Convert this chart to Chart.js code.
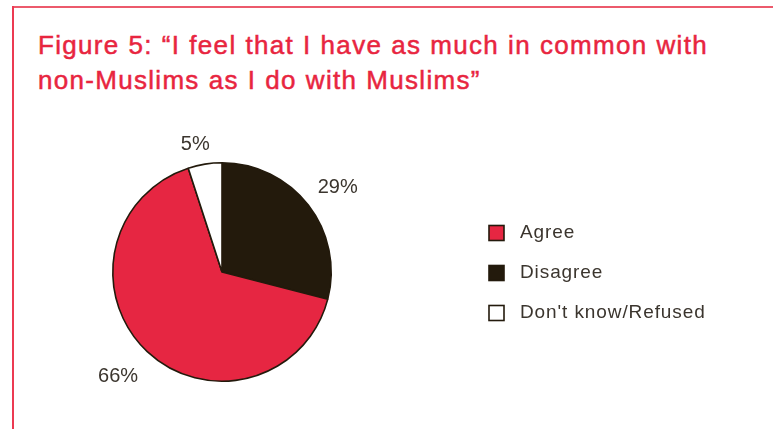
<!DOCTYPE html>
<html>
<head>
<meta charset="utf-8">
<script src="https://cdn.jsdelivr.net/npm/chart.js@4"></script>
<style>
    html, body { margin: 0; padding: 0; background: #fff; }
    #wrap { position: relative; width: 773px; height: 429px; overflow: hidden; }
    #frameTop { position: absolute; left: 12px; top: 6px; right: 0; height: 2px; background: #ec5a6c; }
    #frameLeft { position: absolute; left: 12px; top: 6px; bottom: 0; width: 2px; background: #ec3a52; }
    #title {
        position: absolute; left: 38px; top: 28px; margin: 0;
        font-family: 'Liberation Sans', Arial, sans-serif; font-size: 26px; font-weight: normal;
        line-height: 35px; color: #e8253f; letter-spacing: 1.3px; word-spacing: 0.5px;
        -webkit-text-stroke: 0.5px #e8253f;
    }
    canvas { position: absolute; left: 0; top: 0; }
</style>
</head>
<body>
<div id="wrap">
    <div id="frameTop"></div>
    <div id="frameLeft"></div>
    <h1 id="title">Figure 5: “I feel that I have as much in common with<br>non-Muslims as I do with Muslims”</h1>
    <canvas id="chart" width="773" height="429"></canvas>
</div>
<script>
// ========================================
// DATA
// ========================================

// slice order runs clockwise from 12 o'clock
const categories = ['Disagree', 'Agree', "Don't know/Refused"];
const shares = [29, 66, 5];
const sliceColors = ['#231a0c', '#e62642', '#ffffff'];

// legend order
const legendOrder = ['Agree', 'Disagree', "Don't know/Refused"];

const TEXT_COLOR = '#3b352e';
const FONT = "'Liberation Sans', Arial, sans-serif";

// ========================================
// PLUGINS
// ========================================

// percentage labels sitting just outside each slice
const outsideLabels = {
    id: 'outsideLabels',
    afterDatasetsDraw(chart) {
        const ctx = chart.ctx;
        const meta = chart.getDatasetMeta(0);
        const offsets = [34, 38, 21];
        const nudge = [0.03, 0.03, -0.05]; // small angular shift, radians
        ctx.save();
        ctx.font = '20px ' + FONT;
        ctx.fillStyle = TEXT_COLOR;
        ctx.textAlign = 'center';
        ctx.textBaseline = 'middle';
        meta.data.forEach((arc, i) => {
            const mid = (arc.startAngle + arc.endAngle) / 2 + nudge[i];
            const r = arc.outerRadius + offsets[i];
            const x = arc.x + Math.cos(mid) * r;
            const y = arc.y + Math.sin(mid) * r;
            ctx.fillText(shares[i] + '%', x, y);
        });
        ctx.restore();
    }
};

// square legend to the right of the pie
const boxLegend = {
    id: 'boxLegend',
    afterDraw(chart) {
        const ctx = chart.ctx;
        const x = 489, y0 = 233, gap = 40, size = 15;
        ctx.save();
        ctx.font = '19px ' + FONT;
        ctx.letterSpacing = '0.9px';
        ctx.textBaseline = 'middle';
        legendOrder.forEach((name, i) => {
            const idx = categories.indexOf(name);
            const y = y0 + i * gap;
            ctx.fillStyle = sliceColors[idx];
            ctx.fillRect(x, y - size / 2, size, size);
            ctx.strokeStyle = '#231a0c';
            ctx.lineWidth = 1.6;
            ctx.strokeRect(x, y - size / 2, size, size);
            ctx.fillStyle = TEXT_COLOR;
            ctx.fillText(name, x + 31, y);
        });
        ctx.restore();
    }
};

// ========================================
// CHART
// ========================================

new Chart(document.getElementById('chart'), {
    type: 'pie',
    data: {
        labels: categories,
        datasets: [{
            data: shares,
            backgroundColor: sliceColors,
            borderColor: '#231a0c',
            borderWidth: 1.6
        }]
    },
    options: {
        responsive: false,
        animation: false,
        rotation: 0,
        layout: { padding: { left: 112, top: 162, right: 441, bottom: 47 } },
        plugins: {
            legend: { display: false },
            tooltip: { enabled: false }
        }
    },
    plugins: [outsideLabels, boxLegend]
});
</script>
</body>
</html>
